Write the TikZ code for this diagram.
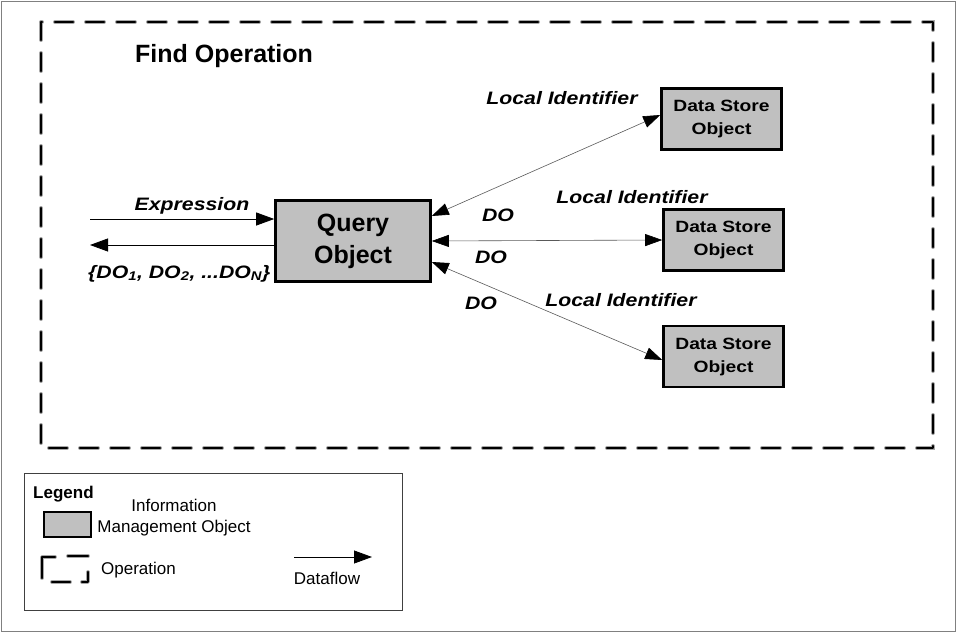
\documentclass[tikz,border=0pt]{standalone}
\usepackage{fontspec}
\setmainfont{Liberation Sans}
\newfontfamily\wideface[FakeStretch=1.18]{Liberation Sans}
\usepackage{tikz}
\usetikzlibrary{
    calc,
    arrows.meta
}
\definecolor{boxgray}{HTML}{C0C0C0}
\tikzset{
    imo/.style={draw, line width=2.6pt, fill=boxgray, inner sep=0pt, align=center},
    storebox/.style={imo, minimum width=120pt, minimum height=61pt,
        font=\wideface\fontsize{16.3}{23}\selectfont\bfseries},
    lbl/.style={inner sep=0pt, font=\wideface\fontsize{18}{21}\selectfont\bfseries\itshape},
    legtext/.style={inner sep=0pt, font=\fontsize{17}{21}\selectfont},
    flow/.style={line width=0.8pt, -{Triangle[length=18pt,width=13pt]}},
    twoway/.style={line width=0.6pt, draw=black!65,
        {Triangle[length=17pt,width=12pt,color=black]}-{Triangle[length=17pt,width=12pt,color=black]}},
    opedge/.style={line width=2.6pt, line cap=round, line join=round, dash pattern=on 18pt off 13pt,
        preaction={draw=gray!70, line width=4pt, line cap=round, dash pattern=on 18pt off 13pt}},
    opmark/.style={line width=2.4pt, line cap=round, line join=round,
        preaction={draw=gray!70, line width=3.8pt, line cap=round, line join=round}}
}

\begin{document}
\begin{tikzpicture}[x=1pt, y=-1pt]
    \useasboundingbox (0,0) rectangle (956,632);
    \draw[gray, line width=1pt] (1,1) rectangle (955,631);

    % operation frame
    \draw[opedge] (41,22) rectangle (933,448);
    \node[anchor=base west, inner sep=0pt, font=\fontsize{25}{30}\selectfont\bfseries] (title) at (135,62) {Find Operation};

    \node[imo, minimum width=155pt, minimum height=81pt, font=\fontsize{25}{32}\selectfont\bfseries] (query) at (353,241) {Query\\Object};
    \node[storebox] (store1) at (721.5,119) {Data Store\\Object};
    \node[storebox] (store2) at (723.5,240) {Data Store\\Object};
    \node[storebox] (store3) at (723.5,356.5) {Data Store\\Object};

    % request and result
    \coordinate (exprin) at (90,219);
    \coordinate (resout) at (90,245);
    \draw[flow] (exprin) -- ([yshift=22pt]query.west);
    \draw[flow] ([yshift=-4pt]query.west) -- (resout);
    \node[lbl, anchor=base] (exprlbl) at (192,210) {Expression};
    \node[lbl, anchor=base west] (setlbl) at (88,278) {\{DO\textsubscript{1}, DO\textsubscript{2}, ...DO\textsubscript{N}\}};

    \draw[twoway] ([yshift=25pt]query.east) -- ([yshift=4pt]store1.west);
    \draw[twoway] (query.east) -- (store2.west);
    \draw[twoway] ([yshift=-21pt]query.east) -- ([yshift=-3.5pt]store3.west);
    \node[lbl] (id1) at (562,98) {Local Identifier};
    \node[lbl] (id2) at (632,197) {Local Identifier};
    \node[lbl] (id3) at (621,300) {Local Identifier};
    \node[lbl] (do1) at (498,215) {DO};
    \node[lbl] (do2) at (491,257) {DO};
    \node[lbl] (do3) at (481,303) {DO};

    % legend
    \draw[black!75, line width=0.8pt] (24,473) rectangle (402,610);
    \node[legtext, anchor=base west, font=\fontsize{17}{21}\selectfont\bfseries] (legtitle) at (33,498) {Legend};
    \node[imo, line width=2.4pt, minimum width=47pt, minimum height=25pt] (imoicon) at (67.5,524.5) {};
    \node[legtext, align=center] (imolbl) at (174,518) {Information\\Management Object};
    \draw[opmark] (55,557) -- (42,557) -- (42,578);
    \draw[opmark] (68,556) -- (88,556);
    \draw[opmark] (52,582) -- (70,582);
    \draw[opmark] (82,582) -- (88,582) -- (88,572);
    \node[legtext, anchor=west] (oplbl) at (101,570) {Operation};
    \coordinate (flowa) at (294,557);
    \coordinate (flowb) at (372,557);
    \draw[flow] (flowa) -- (flowb);
    \node[legtext] (flowlbl) at (327,578) {Dataflow};
\end{tikzpicture}
\end{document}
